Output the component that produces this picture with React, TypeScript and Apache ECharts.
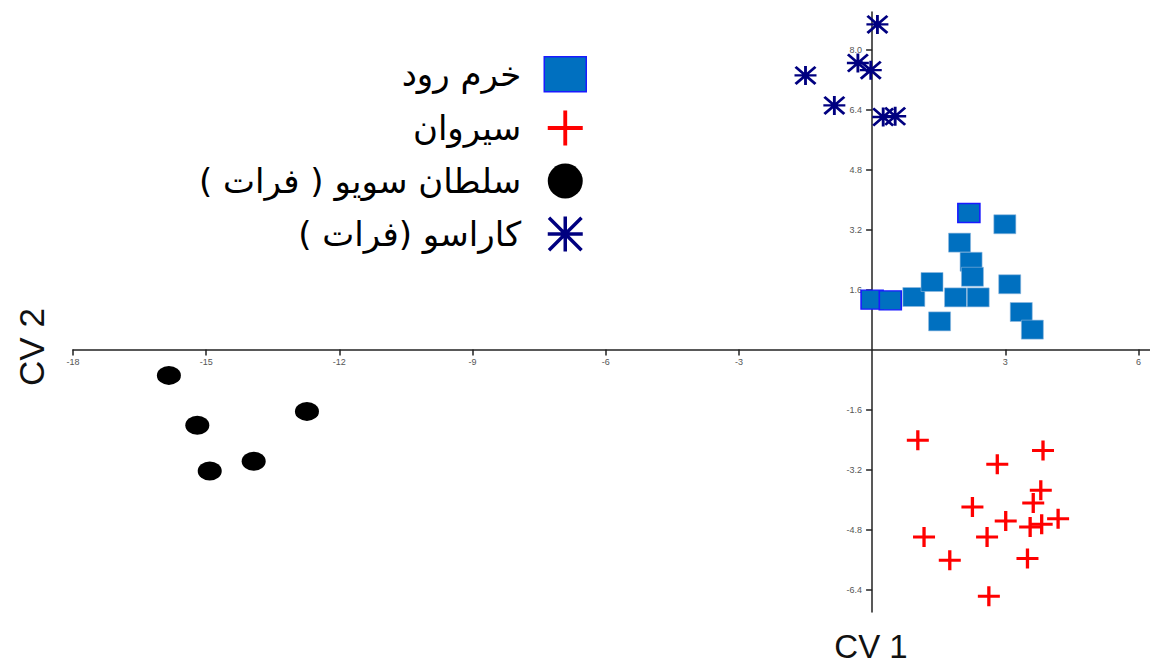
import React, { useEffect, useRef } from "react";
import * as echarts from "echarts";

// ---- Data ----
const xTicks = [-18, -15, -12, -9, -6, -3, 3, 6];
const yTicks = [-6.4, -4.8, -3.2, -1.6, 1.6, 3.2, 4.8, 6.4, 8.0];

const seriesNames = ["خرم رود", "سیروان", "سلطان سویو ( فرات )", "کاراسو (فرات )"];
const axisNames = ["CV 1", "CV 2"];

// خرم رود (CV1, CV2)
const khorramRoud = [
  [0.0, 1.33], [0.41, 1.31], [0.94, 1.4], [1.35, 1.8], [1.52, 0.75],
  [1.88, 1.39], [1.97, 2.85], [2.18, 3.64], [2.23, 2.34], [2.26, 1.94],
  [2.39, 1.39], [2.99, 3.34], [3.1, 1.74], [3.36, 1.0], [3.61, 0.53],
];
const khorramOutlined = [0, 1, 7];

// سیروان
const sirvan = [
  [1.03, -2.42], [3.85, -2.69], [2.82, -3.06], [3.8, -3.75], [3.63, -4.09],
  [2.26, -4.2], [3.01, -4.57], [4.19, -4.51], [3.56, -4.73], [3.82, -4.66],
  [1.17, -5.0], [2.59, -5.0], [1.75, -5.62], [3.5, -5.57], [2.63, -6.58],
];

// سلطان سویو ( فرات )
const soltanSuyu = [
  [-15.84, -0.69], [-15.2, -2.02], [-14.92, -3.24], [-13.93, -2.98], [-12.73, -1.65],
];

// کاراسو (فرات )
const karasu = [
  [0.12, 8.67], [-0.32, 7.64], [-0.03, 7.45], [-1.5, 7.31], [-0.85, 6.51],
  [0.25, 6.2], [0.52, 6.22],
];

// ---- Symbols ----
const plusPath = "path://M8.5,0h3v20h-3zM0,8.5h20v3h-20z";
const plusLegendPath = "path://M8.9,0h2.2v20h-2.2zM0,8.9h20v2.2h-20z";
const asteriskPath =
  "path://M8.7,0h2.6v20h-2.6zM0,8.7h20v2.6h-20zM1.85,0L20,18.15L18.15,20L0,1.85zM18.15,0L20,1.85L1.85,20L0,18.15z";
const asteriskLegendPath =
  "path://M9,0h2v20h-2zM0,9h20v2h-20zM1.4,0L20,18.6L18.6,20L0,1.4zM18.6,0L20,1.4L1.4,20L0,18.6z";
const ellipsePath = "path://M0,10A10,10,0,1,1,20,10A10,10,0,1,1,0,10Z";

const BLUE = "#0070c0";
const OUTLINE = "#1a1aff";
const RED = "#ff0000";
const NAVY = "#000080";

const X_MIN = -18;
const X_MAX = 6.26;
const Y_MIN = -7;
const Y_MAX = 9;
const GRID = { left: 73, right: 0, top: 12, bottom: 54 };
const W = 1150;
const H = 666;

export default function App() {
  const ref = useRef<HTMLDivElement>(null);

  useEffect(() => {
    if (!ref.current) return;
    const chart = echarts.init(ref.current, null, { renderer: "svg" });

    const gw = W - GRID.left - GRID.right;
    const gh = H - GRID.top - GRID.bottom;
    // shift axes so they cross at the origin
    const yAxisOffset = -((0 - X_MIN) / (X_MAX - X_MIN)) * gw;
    const xAxisOffset = -((0 - Y_MIN) / (Y_MAX - Y_MIN)) * gh;

    const lineStyle = { color: "#222", width: 1.5 };

    const option: any = {
      animation: false,
      backgroundColor: "#ffffff",
      grid: { ...GRID, containLabel: false },
      xAxis: {
        type: "value",
        min: X_MIN,
        max: X_MAX,
        offset: xAxisOffset,
        splitLine: { show: false },
        axisLine: { show: true, onZero: false, lineStyle },
        axisTick: { show: true, length: 6, customValues: xTicks, lineStyle },
        axisLabel: {
          customValues: xTicks,
          margin: 8,
          fontSize: 9,
          color: "#555",
          fontFamily: "Liberation Sans",
          formatter: (v: number) => String(v),
        },
      },
      yAxis: {
        type: "value",
        min: Y_MIN,
        max: Y_MAX,
        offset: yAxisOffset,
        splitLine: { show: false },
        axisLine: { show: true, onZero: false, lineStyle },
        axisTick: { show: true, length: 6, customValues: yTicks, lineStyle },
        axisLabel: {
          customValues: yTicks,
          margin: 10,
          fontSize: 9,
          color: "#555",
          fontFamily: "Liberation Sans",
          formatter: (v: number) => v.toFixed(1),
        },
      },
      legend: {
        orient: "vertical",
        align: "right",
        right: 563,
        top: 56,
        padding: 0,
        itemWidth: 42,
        itemHeight: 35,
        itemGap: 18,
        selectedMode: false,
        textStyle: {
          fontSize: 34,
          fontFamily: "DejaVu Sans",
          color: "#000",
          padding: [0, 18, 0, 0],
        },
        data: [
          { name: seriesNames[0], icon: "rect", itemStyle: { color: BLUE, borderColor: OUTLINE, borderWidth: 1.5 } },
          { name: seriesNames[1], icon: plusLegendPath },
          { name: seriesNames[2], icon: ellipsePath },
          { name: seriesNames[3], icon: asteriskLegendPath },
        ],
      },
      graphic: [
        {
          type: "text",
          x: 871,
          y: 646,
          style: {
            text: axisNames[0],
            fontSize: 33,
            fontFamily: "Liberation Sans",
            fill: "#111",
            align: "center",
            verticalAlign: "middle",
          },
        },
        {
          type: "text",
          x: 31,
          y: 347,
          rotation: Math.PI / 2,
          style: {
            text: axisNames[1],
            fontSize: 35,
            fontFamily: "Liberation Sans",
            fill: "#111",
            align: "center",
            verticalAlign: "middle",
          },
        },
      ],
      series: [
        {
          name: seriesNames[0],
          type: "scatter",
          symbol: "rect",
          symbolSize: [22, 19],
          itemStyle: { color: BLUE, opacity: 1 },
          data: khorramRoud.map((p, i) => ({
            value: p,
            itemStyle: khorramOutlined.includes(i)
              ? { borderColor: OUTLINE, borderWidth: 1.5 }
              : { borderColor: "#8fb8de", borderWidth: 0.6 },
          })),
          z: 2,
        },
        {
          name: seriesNames[1],
          type: "scatter",
          symbol: plusPath,
          symbolSize: [22, 20],
          itemStyle: { color: RED, opacity: 1 },
          data: sirvan,
          z: 2,
        },
        {
          name: seriesNames[2],
          type: "scatter",
          symbol: ellipsePath,
          symbolSize: [24, 19],
          itemStyle: { color: "#000", opacity: 1 },
          data: soltanSuyu,
          z: 2,
        },
        {
          name: seriesNames[3],
          type: "scatter",
          symbol: asteriskPath,
          symbolSize: [22, 19],
          itemStyle: { color: NAVY, opacity: 1 },
          data: karasu,
          z: 2,
        },
      ],
    };

    chart.setOption(option);
    return () => chart.dispose();
  }, []);

  return (
    <>
      <style>{`.cv-chart text { unicode-bidi: plaintext; }`}</style>
      <div
        ref={ref}
        className="cv-chart"
        style={{ position: "absolute", left: 0, top: 0, width: W, height: H }}
      />
    </>
  );
}
